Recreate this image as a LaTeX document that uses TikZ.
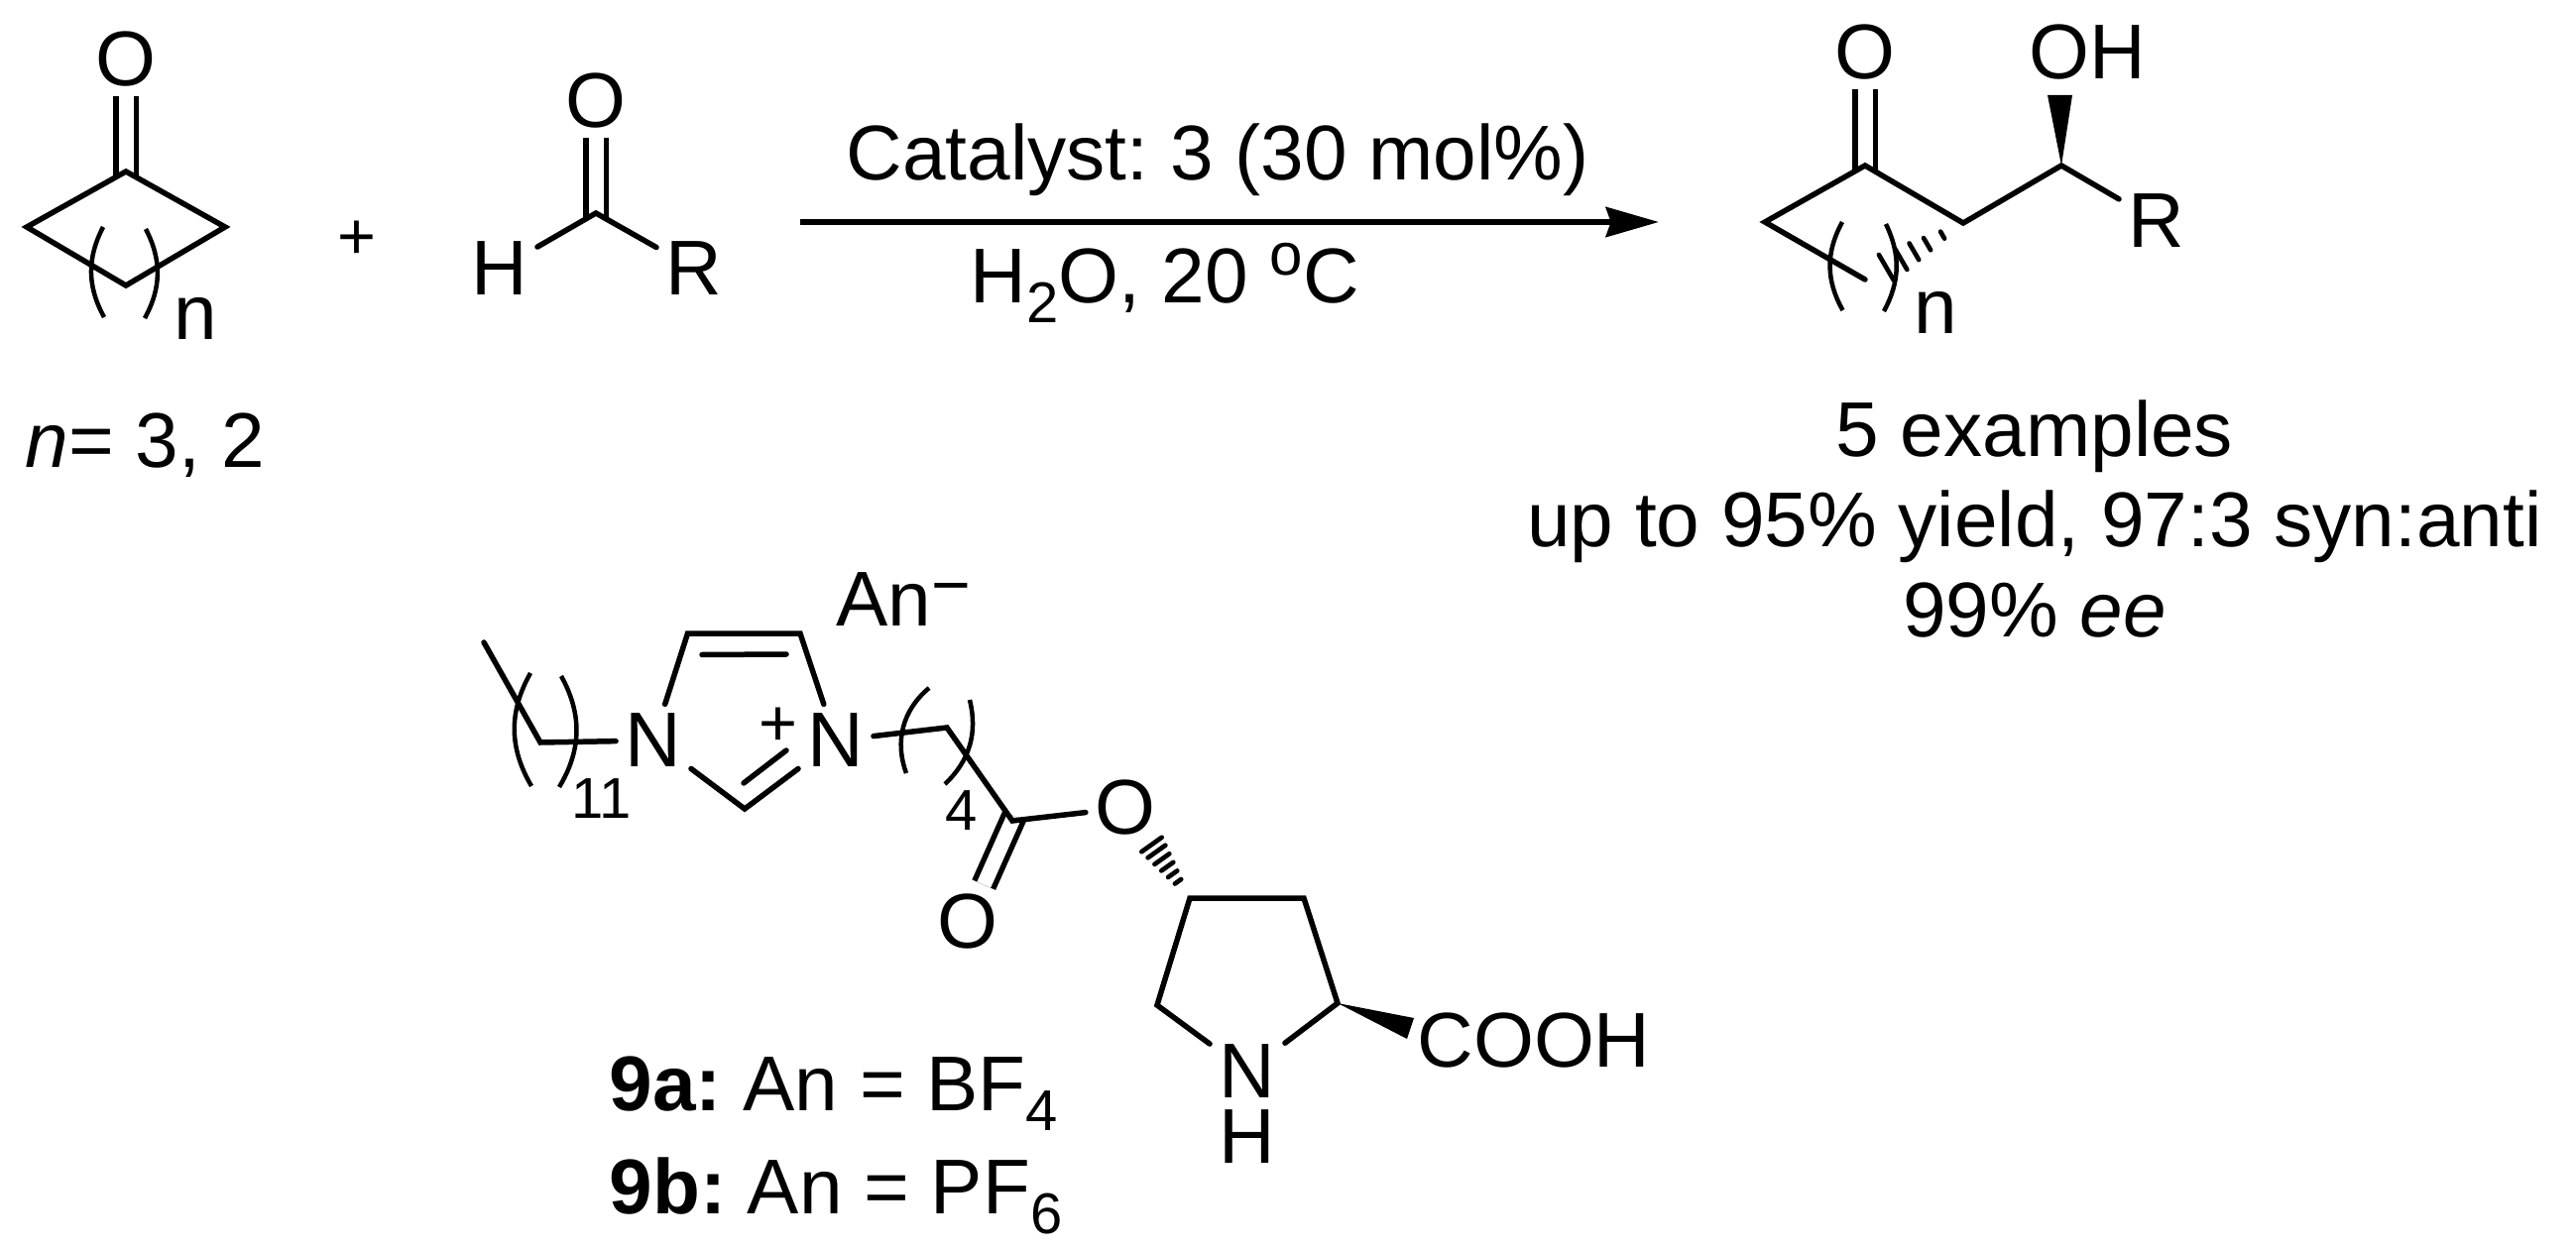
\documentclass[tikz,border=0pt]{standalone}
\usepackage{fontspec}
\setmainfont{Liberation Sans}
\usetikzlibrary{calc,arrows.meta}
\frenchspacing
\newcommand{\subs}[1]{\raisebox{-6pt}{\fontsize{17.4}{17.4}\selectfont #1}}
\tikzset{
  atom/.style={inner sep=2.7pt,font=\fontsize{23.5}{27.3}\selectfont},
  txt/.style={inner sep=0pt,anchor=base,align=center,font=\fontsize{23.5}{27.3}\selectfont},
  small/.style={inner sep=0pt,font=\fontsize{17.4}{17.4}\selectfont},
  charge/.style={inner sep=0pt,font=\fontsize{20}{20}\selectfont},
  bond/.style={line width=1.65pt,line cap=round},
  dbond/.style={line width=1.65pt,double,double distance=4.5pt,shorten <=-1.5pt},
  parenb/.style={line width=1.35pt},
  hashb/.style={line width=1.4pt,line cap=round},
  rxnarrow/.style={line width=1.8pt,-{Stealth[length=16pt,width=9pt,inset=1.5pt]}}
}
\begin{document}
\begin{tikzpicture}[x=0.3pt,y=-0.3pt]
\useasboundingbox (0,0) rectangle (2598,1261);
\path coordinate (ka) at (127,173)
      coordinate (kl) at (27,229)
      coordinate (kr) at (227,229)
      coordinate (kb) at (127,288)
      coordinate (aa) at (601,215)
      coordinate (pl) at (1780,224)
      coordinate (pk) at (1881,167)
      coordinate (pm) at (1980,225)
      coordinate (pc) at (2079,167)
      coordinate (pe) at (1881,282)
      coordinate (ph) at (1902.5,270)
      coordinate (pw1) at (2065,96)
      coordinate (pw2) at (2090,96)
      coordinate (arrS) at (807,224)
      coordinate (arrE) at (1673,224)
      coordinate (c4) at (693.5,639)
      coordinate (c5) at (807,639)
      coordinate (c2) at (751,816)
      coordinate (d1) at (708,660.5)
      coordinate (d2) at (793,660)
      coordinate (d3) at (750,790)
      coordinate (d4) at (793,757)
      coordinate (la) at (488,648)
      coordinate (lb) at (545,749)
      coordinate (ra) at (955,734)
      coordinate (rb) at (1021,828)
      coordinate (ya) at (1200,906)
      coordinate (yb) at (1315,906)
      coordinate (yc) at (1349,1012)
      coordinate (yd) at (1167,1014)
      coordinate (yh) at (1161.5,852)
      coordinate (yw1) at (1426,1027)
      coordinate (yw2) at (1419,1048);
\path node (kO) at (127,60) [atom] {O}
      node (kn) at (197,321) [atom] {n}
      node (plus) at (360,242) [charge] {+}
      node (aO) at (601,102) [atom] {O}
      node (aH) at (504,271) [atom] {H}
      node (aR) at (700,271) [atom] {R}
      node (range) at (25,472) [txt,anchor=base west] {\textit{n}= 3, 2}
      node (cat) at (1228,182) [txt] {Catalyst: 3 (30 mol\%)}
      node (cond) at (978,306) [txt,anchor=base west] {H\subs{2}O, 20 \raisebox{8.7pt}{\fontsize{18}{18}\selectfont o}C}
      node (pO) at (1881,53) [atom] {O}
      node (pOH) at (2105,53) [atom] {OH}
      node (pR) at (2175,223) [atom] {R}
      node (pn) at (1952,315) [atom] {n}
      node (yield) at (2052,642) [txt] {5 examples\\up to 95\% yield, 97:3 syn:anti\\99\% \textit{ee}}
      node (an) at (843,631) [txt,anchor=base west] {An\raisebox{5.4pt}{\fontsize{20.4}{20.4}\selectfont −}}
      node (N1) at (659,747) [atom] {N}
      node (N3) at (843,747) [atom] {N}
      node (Npl) at (785,733) [charge] {+}
      node (n11) at (607,806) [small] {11}
      node (n4) at (970,818) [small] {4}
      node (eO) at (1135,815) [atom] {O}
      node (cO) at (975.6,930) [atom] {O}
      node (yN) at (1258,1081) [atom] {N}
      node (yH) at (1258,1147) [atom,inner sep=0pt] {H}
      node (cooh) at (1547,1050) [atom] {COOH}
      node (lab1) at (614,1120) [txt,anchor=base west] {\textbf{9a:} An = BF\subs{4}}
      node (lab2) at (614,1224) [txt,anchor=base west] {\textbf{9b:} An = PF\subs{6}};
\draw[dbond] (ka) -- (kO);
\draw[dbond] (aa) -- (aO);
\draw[dbond] (pk) -- (pO);
\draw[dbond] (rb) -- (cO);
\draw[bond] (ka) -- (kr) -- (kb) -- (kl) -- cycle;
\draw[parenb] (104,229) to[bend right=28] (105,320);
\draw[parenb] (147,231) to[bend left=28] (146,321);
\draw[bond] (aH) -- (aa) -- (aR);
\draw[rxnarrow] (arrS) -- (arrE);
\draw[bond] (pe) -- (pl) -- (pk) -- (pm) -- (pc) -- (pR);
\fill (pc) -- (pw1) -- (pw2) -- cycle;
\foreach \t in {.27,.47,.64,.81,1}
  \draw[hashb] ($(pm)!\t!(ph)!{\t*4.5pt}!90:(pm)$) -- ($(pm)!\t!(ph)!{-\t*4.5pt}!90:(pm)$);
\draw[parenb] (1858,224) to[bend right=29] (1858.5,313);
\draw[parenb] (1902,226) to[bend left=27] (1900,314);
\draw[bond] (N1) -- (c4) -- (c5) -- (N3) -- (c2) -- (N1);
\draw[bond] (d1) -- (d2);
\draw[bond] (d3) -- (d4);
\draw[bond] (la) -- (lb) -- (N1);
\draw[parenb] (535,679) to[bend right=30] (536,793);
\draw[parenb] (566,682) to[bend left=30] (564,794);
\draw[bond] (N3) -- (ra) -- (rb) -- (eO);
\draw[parenb] (937,694) to[bend right=35] (914,780);
\draw[parenb] (978,706) to[bend left=30] (953,791);
\draw[bond] (yN) -- (yc) -- (yb) -- (ya) -- (yd) -- (yN);
\fill (yc) -- (yw1) -- (yw2) -- cycle;
\foreach \t in {.31,.45,.59,.73,.87,1}
  \draw[hashb] ($(ya)!\t!(yh)!{\t*3.75pt}!90:(ya)$) -- ($(ya)!\t!(yh)!{-\t*3.75pt}!90:(ya)$);
\end{tikzpicture}
\end{document}
